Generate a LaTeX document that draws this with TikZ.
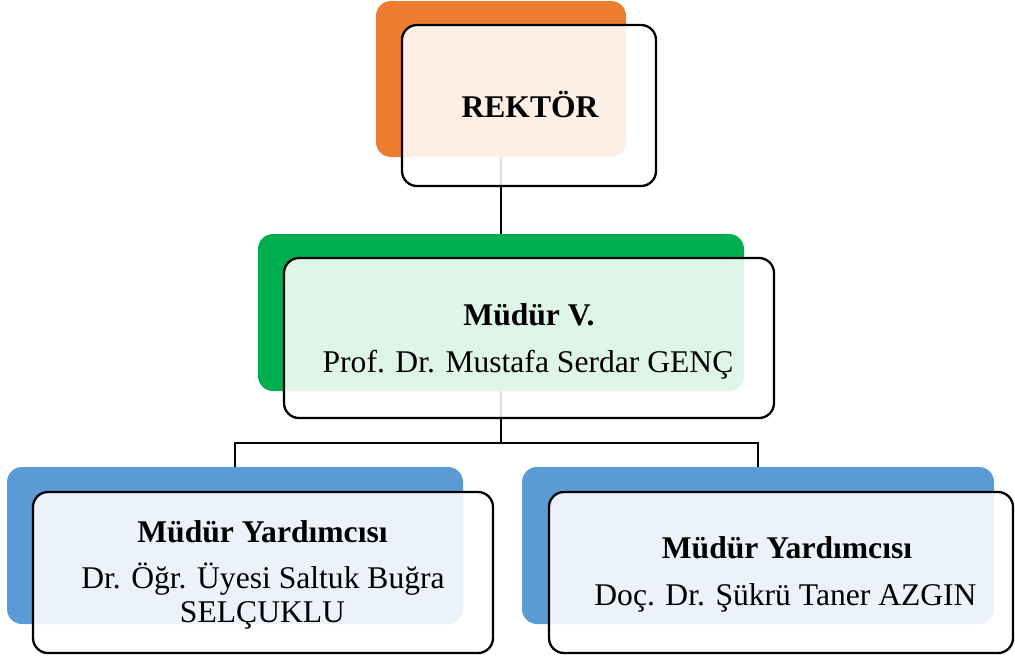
\documentclass[tikz,border=0pt]{standalone}
\usepackage{fontspec}
\setmainfont{Liberation Serif}
\definecolor{rekorange}{HTML}{ED7D31}
\definecolor{mvgreen}{HTML}{00B050}
\definecolor{ybblue}{HTML}{5B9BD5}
\tikzset{
  backbox/.style={rectangle, rounded corners=15pt, inner sep=0pt, outer sep=0pt, draw=none},
  frontbox/.style={rectangle, rounded corners=15pt, inner sep=0pt, outer sep=0pt, draw=black, line width=2.3pt, fill=white, fill opacity=0.88},
  conn/.style={draw=black, line width=2.3pt},
  lbl/.style={anchor=base, inner sep=0pt, font=\fontsize{31.6}{38}\selectfont},
  lblb/.style={lbl, font=\fontsize{31.6}{38}\selectfont\bfseries}
}
\begin{document}
\begin{tikzpicture}[x=1pt, y=-1pt]
\useasboundingbox (0,0) rectangle (1015,657);
% back boxes
\node[backbox, fill=rekorange, minimum width=250pt, minimum height=156pt] (rekB) at (501,79) {};
\node[backbox, fill=mvgreen, minimum width=486pt, minimum height=157pt] (mvB) at (501,312.5) {};
\node[backbox, fill=ybblue, minimum width=456pt, minimum height=157pt] (y1B) at (235,545.5) {};
\node[backbox, fill=ybblue, minimum width=472pt, minimum height=157pt] (y2B) at (758,545.5) {};
% connectors
\coordinate (j) at (501,443);
\draw[conn] (rekB.south) -- (mvB.north);
\draw[conn] (mvB.south) -- (j);
\draw[conn] (j) -| (y1B.north);
\draw[conn] (j) -| (y2B.north);
% front boxes
\node[frontbox, minimum width=254pt, minimum height=161pt] (rekF) at (529,105.5) {};
\node[frontbox, minimum width=490pt, minimum height=160pt] (mvF) at (529,338) {};
\node[frontbox, minimum width=460pt, minimum height=161pt] (y1F) at (263,572.5) {};
\node[frontbox, minimum width=464pt, minimum height=161pt] (y2F) at (781,572.5) {};
% texts
\node[lblb] (t1) at (530,117) {REKTÖR};
\node[lblb] (t2) at (529,325) {Müdür V.};
\node[lbl] (t3) at (528,372) {Prof. Dr. Mustafa Serdar GENÇ};
\node[lblb] (t4) at (262.5,542) {Müdür Yardımcısı};
\node[lbl] (t5) at (263,588) {Dr. Öğr. Üyesi Saltuk Buğra};
\node[lbl] (t6) at (262.5,622) {SELÇUKLU};
\node[lblb] (t7) at (787,558) {Müdür Yardımcısı};
\node[lbl] (t8) at (785.5,605) {Doç. Dr. Şükrü Taner AZGIN};
\end{tikzpicture}
\end{document}
